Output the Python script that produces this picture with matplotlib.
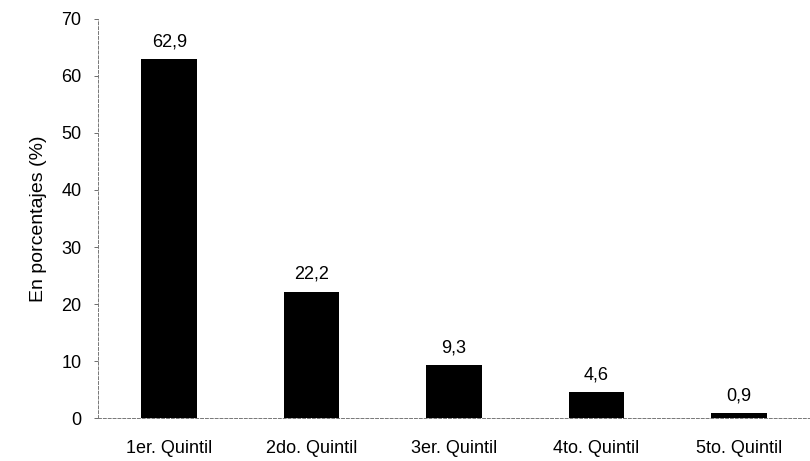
import matplotlib
matplotlib.use("Agg")
import matplotlib.pyplot as plt

categories = ["1er. Quintil", "2do. Quintil", "3er. Quintil", "4to. Quintil", "5to. Quintil"]
values = [62.9, 22.2, 9.3, 4.6, 0.9]
labels = ["62,9", "22,2", "9,3", "4,6", "0,9"]
yticks = [0, 10, 20, 30, 40, 50, 60, 70]

plt.rcParams['font.family'] = ['Liberation Sans', 'DejaVu Sans']

fig = plt.figure(figsize=(8.1, 4.61), dpi=100)
ax = fig.add_axes([0.121, 0.093, 0.879, 0.866])

x = range(len(categories))
bars = ax.bar(x, values, width=0.39, color='black')
for xi, v, lab in zip(x, values, labels):
    ax.text(xi, v + 1.5, lab, ha='center', va='bottom', fontsize=13)

ax.set_xlim(-0.5, 4.5)
ax.set_ylim(0, 70)
ax.set_yticks(yticks)
ax.set_xticks(list(x))
ax.set_xticklabels(categories, fontsize=13)
ax.tick_params(axis='y', labelsize=13, length=3, width=0.6, color='#555555', pad=9)
ax.tick_params(axis='x', length=0, pad=16)
ax.set_ylabel("En porcentajes (%)", fontsize=14, labelpad=10)

for s in ['top', 'right']:
    ax.spines[s].set_visible(False)
for s in ['left', 'bottom']:
    ax.spines[s].set_linestyle((0, (3, 2)))
    ax.spines[s].set_linewidth(0.7)
    ax.spines[s].set_color('#777777')

fig.savefig("out.png", dpi=100)
